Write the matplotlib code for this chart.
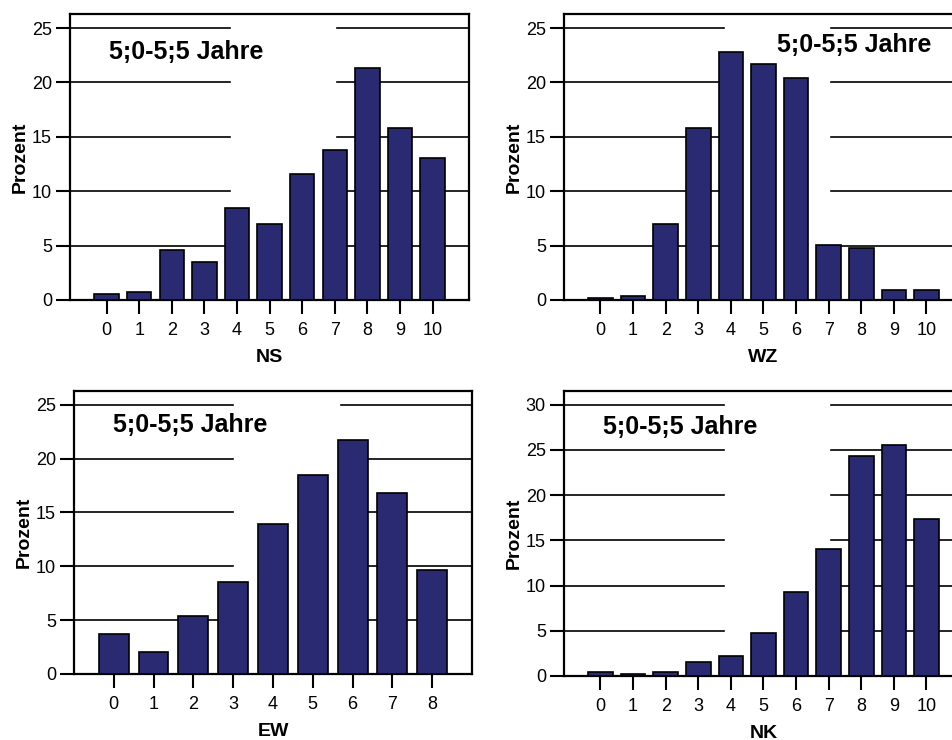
import matplotlib
matplotlib.use("Agg")
import matplotlib.pyplot as plt
import numpy as np

plt.rcParams['font.family'] = ['Liberation Sans', 'DejaVu Sans']

# data
ns_cats = list(range(11))
ns_vals = [0.55, 0.7, 4.6, 3.5, 8.45, 7.0, 11.6, 13.75, 21.3, 15.8, 13.05]

wz_cats = list(range(11))
wz_vals = [0.15, 0.35, 7.0, 15.8, 22.8, 21.7, 20.4, 5.1, 4.8, 0.9, 0.9]

ew_cats = list(range(9))
ew_vals = [3.7, 2.0, 5.35, 8.5, 13.9, 18.5, 21.7, 16.85, 9.65]

nk_cats = list(range(11))
nk_vals = [0.4, 0.2, 0.4, 1.5, 2.2, 4.8, 9.25, 14.1, 24.3, 25.6, 17.4]

title = "5;0-5;5 Jahre"
bar_color = "#2a2a72"

fig = plt.figure(figsize=(9.53, 7.40), dpi=100)

# [left, bottom, width, height], xlim, ylim, yticks, xlabel, title pos
panels = [
    (ns_cats, ns_vals, [0.0735, 0.5946, 0.4187, 0.3865], (-1.12, 11.12), 26.3, range(0, 26, 5), "NS", (0.098, 0.867)),
    (wz_cats, wz_vals, [0.5918, 0.5946, 0.4187, 0.3865], (-1.12, 11.12), 26.3, range(0, 26, 5), "WZ", (0.533, 0.89)),
    (ew_cats, ew_vals, [0.0776, 0.0892, 0.4177, 0.3828], (-1.0, 9.0), 26.3, range(0, 26, 5), "EW", (0.099, 0.879)),
    (nk_cats, nk_vals, [0.5918, 0.0865, 0.4187, 0.3855], (-1.12, 11.12), 31.55, range(0, 31, 5), "NK", (0.098, 0.874)),
]

for cats, vals, pos, xl, ytop, yt, xlab, tpos in panels:
    ax = fig.add_axes(pos)
    ax.bar(cats, vals, width=0.75, color=bar_color, edgecolor="black", linewidth=1.2, zorder=3)
    # grid lines with the gap in the middle
    for y in list(yt)[1:]:
        ax.axhline(y, xmin=0, xmax=0.40, color="black", linewidth=1.2, zorder=1)
        ax.axhline(y, xmin=0.67, xmax=1, color="black", linewidth=1.2, zorder=1)
    ax.set_xlim(*xl)
    ax.set_ylim(0, ytop)
    ax.set_xticks(cats)
    ax.set_yticks(list(yt))
    ax.tick_params(axis="both", direction="out", length=10, width=1.5, labelsize=13, color="black")
    ax.tick_params(axis="x", pad=6)
    ax.tick_params(axis="y", pad=3)
    for s in ax.spines.values():
        s.set_linewidth(1.6)
    ax.set_ylabel("Prozent", fontsize=14, fontweight="bold", labelpad=2)
    ax.set_xlabel(xlab, fontsize=14, fontweight="bold", labelpad=7)
    ax.text(tpos[0], tpos[1], title, transform=ax.transAxes, fontsize=18,
            fontweight="bold", va="center", ha="left", zorder=4)

plt.savefig("out.png", dpi=100)
